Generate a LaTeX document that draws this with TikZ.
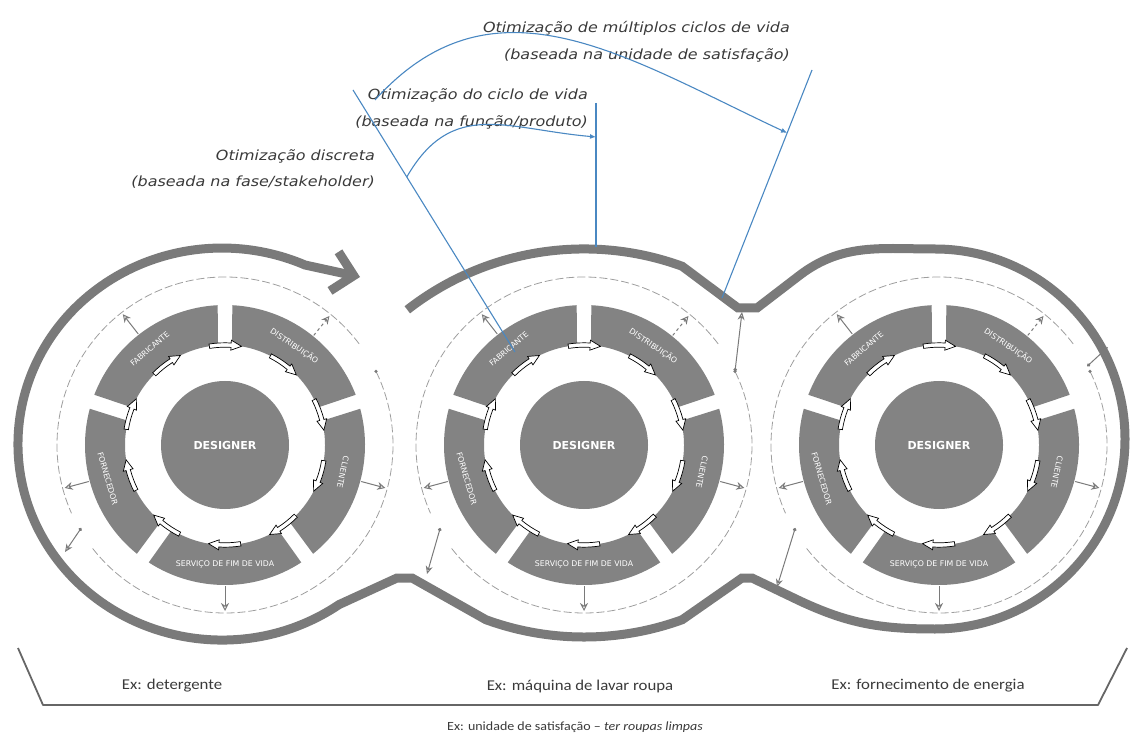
\documentclass[tikz,border=0pt]{standalone}
\usepackage{fontspec}
\setmainfont{Carlito}
\newfontfamily\dvfont{DejaVu Sans}
\newfontfamily\notefont[FakeStretch=1.14]{DejaVu Sans}
\newfontfamily\exfont[FakeStretch=1.12]{Carlito}
\usetikzlibrary{arrows.meta,calc}

\definecolor{ringgray}{HTML}{7A7A7A}
\definecolor{seggray}{HTML}{838383}
\definecolor{dashgray}{HTML}{9E9E9E}
\definecolor{noteblue}{HTML}{4A88C2}
\definecolor{notetext}{HTML}{3A3A3A}

\tikzset{
  ring/.style={ringgray, line width=9pt, line join=miter},
  seg/.style={fill=seggray},
  seglabel/.style={text=white, inner sep=0, font=\dvfont\fontsize{7.8}{9}\selectfont},
  designer/.style={circle, fill=seggray, minimum size=128pt, inner sep=0, text=white,
    font=\dvfont\bfseries\fontsize{11}{13}\selectfont},
  flow/.style={fill=white, draw=black, line width=0.7pt, line join=miter},
  outarrow/.style={ringgray, line width=1pt, -{Stealth[open,length=8pt,width=8pt]}},
  crossarrow/.style={ringgray, line width=1pt, {Circle[length=3.5pt]}-{Stealth[open,length=8pt,width=7pt]}},
  dashcircle/.style={dashgray, line width=0.8pt, dash pattern=on 8pt off 3pt},
  bluel/.style={noteblue, line width=1.1pt},
  note/.style={font=\notefont\itshape\fontsize{14}{26.5}\selectfont, text=notetext, align=right, inner sep=0},
  exlabel/.style={text=notetext, font=\exfont\fontsize{15}{17}\selectfont},
  bracket/.style={gray!80!black, line width=1.8pt, line join=round}
}

\begin{document}
\begin{tikzpicture}[x=1pt,y=1pt]
\useasboundingbox (0,0) rectangle (1134,742);

\coordinate (C1) at (225,297);
\coordinate (C2) at (584,297);
\coordinate (C3) at (939,297);

% outer ring, from the open end of the middle unit round to the big arrow
\draw[ring, -{Straight Barb[length=20pt,width=40pt]}]
  (407.3,432.2) arc[start angle=128, end angle=70, radius=287]
  -- (738,434) -- (757,434) -- (800,467) to[out=37,in=180] (935,493)
  arc[start angle=90, end angle=-90, radius=190]
  to[out=180,in=-25] (800,141) -- (752,164) -- (742,164)
  -- (682.2,122.3) arc[start angle=-70, end angle=-110, radius=287]
  -- (412,164) -- (397,164) -- (339,137.4)
  arc[start angle=-55, end angle=-294, x radius=204, y radius=196]
  -- (360,465);

% ring contact points
\coordinate (bl1) at (65,190);
\coordinate (bl2) at (427,168);
\coordinate (bl3) at (777,155);
\coordinate (tr2) at (742,430);
\coordinate (tr3) at (1108,395);

\foreach \c/\i in {C1/1,C2/2,C3/3} {
  % dashed loop
  \draw[dashcircle] (\c) ++(37:168) arc[start angle=37, end angle=204, radius=168];
  \draw[dashcircle] (\c) ++(218:168) arc[start angle=218, end angle=386, radius=168];
  \fill[ringgray] ($(\c)+(26:168)$) circle (1.8);
  \draw[crossarrow] ($(\c)+(210:166)$) -- (bl\i);

  % stakeholder segments
  \foreach \m in {126,54,-18,-90,-162}
    \fill[seg] ($(\c)+({\m+33}:140)$) arc[start angle=\m+33, end angle=\m-33, radius=140]
      -- ($(\c)+({\m-32}:100)$) arc[start angle=\m-32, end angle=\m+32, radius=100] -- cycle;

  \node[seglabel, rotate=41] (fab\i) at ($(\c)+(128:122)$) {FABRICANTE};
  \node[seglabel, rotate=-34] (dis\i) at ($(\c)+(55:121)$) {DISTRIBUIÇÃO};
  \node[seglabel, rotate=-102] (cli\i) at ($(\c)+(-13:121)$) {CLIENTE};
  \node[seglabel] (srv\i) at ($(\c)+(-90:119)$) {SERVIÇO DE FIM DE VIDA};
  \node[seglabel, rotate=-74] (for\i) at ($(\c)+(196:122)$) {FORNECEDOR};

  \node[designer] (des\i) at (\c) {DESIGNER};

  % flow between phases
  \foreach \a in {90,54,18,-18,-54,-90,-126,-162,-198,-234}
    \draw[flow] ($(\c)+({\a+9}:102.2)$) arc[start angle=\a+9, end angle=\a-3.5, radius=102.2]
      -- ($(\c)+({\a-3.5}:105)$) -- ($(\c)+({\a-9.5}:100)$) -- ($(\c)+({\a-3.5}:95)$)
      -- ($(\c)+({\a-3.5}:97.8)$) arc[start angle=\a-3.5, end angle=\a+9, radius=97.8] -- cycle;

  % outputs of each phase
  \foreach \a in {128,-15,195,270}
    \draw[outarrow] ($(\c)+(\a:141)$) -- ($(\c)+(\a:166)$);
  \draw[outarrow, dashed] ($(\c)+(51:141)$) -- ($(\c)+(51:166)$);
}

\draw[crossarrow] ($(C2)+(26:168)$) -- (tr2);
\draw[crossarrow] ($(C3)+(28:168)$) -- (tr3);

% optimisation levels
\node[note, anchor=east] (ndis) at (375,573) {Otimização discreta\\(baseada na fase/stakeholder)};
\node[note, anchor=east] (nciclo) at (588,633) {Otimização do ciclo de vida\\(baseada na função/produto)};
\node[note, anchor=east] (nmult) at (790,700) {Otimização de múltiplos ciclos de vida\\(baseada na unidade de satisfação)};

\coordinate (l1a) at (353,652);
\coordinate (l1b) at (515,390);
\coordinate (vla) at (596,639);
\coordinate (vlb) at (596,495);
\coordinate (l3a) at (812,672);
\coordinate (l3b) at (722,444);
\coordinate (cbs) at (375,642);

\draw[bluel] (l1a) -- (l1b);
\draw[bluel] (vla) -- (vlb);
\draw[bluel] (l3a) -- (l3b);
\draw[bluel, -{Latex[length=6pt,width=5pt]}] ($(l1a)!0.332!(l1b)$) to[out=60,in=175,looseness=1.2] ($(vla)!0.236!(vlb)$);
\draw[bluel, -{Latex[length=6pt,width=5pt]}] (cbs) to[out=48,in=155,looseness=1.1] ($(l3a)!0.276!(l3b)$);

% examples
\draw[bracket] (18,94) -- (43,37) -- (1098,37) -- (1127,94);
\node[exlabel] (ex1) at (172,56) {Ex: detergente};
\node[exlabel] (ex2) at (580,56) {Ex: máquina de lavar roupa};
\node[exlabel] (ex3) at (928,56) {Ex: fornecimento de energia};
\node[exlabel, font=\exfont\fontsize{12.5}{14}\selectfont] (ex4) at (575,15) {Ex: unidade de satisfação – \textit{ter roupas limpas}};
\end{tikzpicture}
\end{document}
